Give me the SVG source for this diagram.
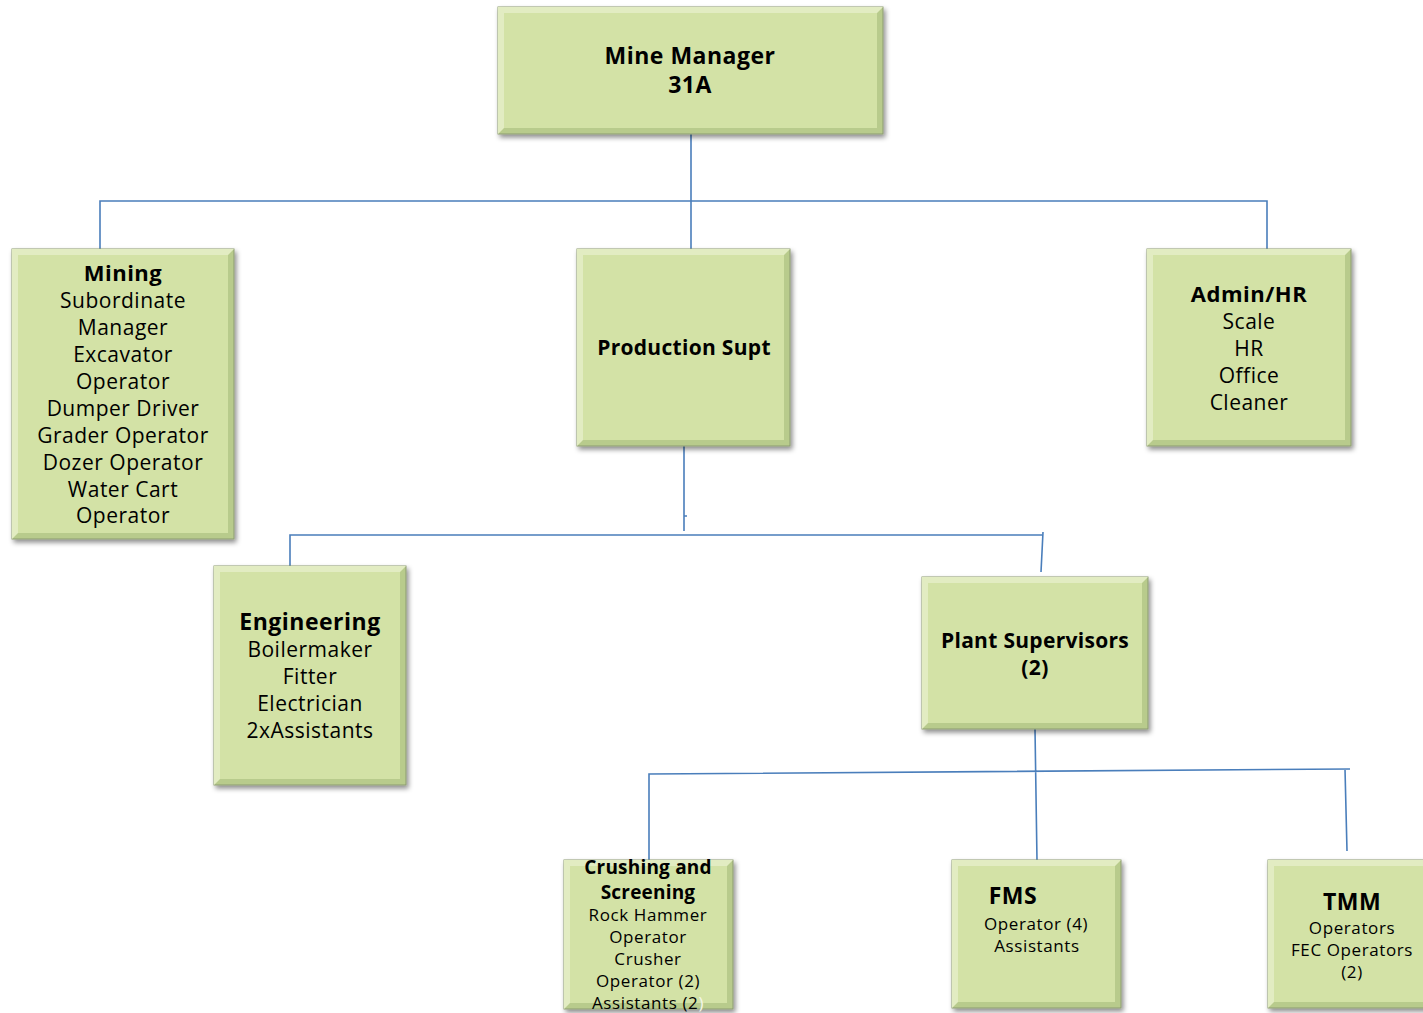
<svg xmlns="http://www.w3.org/2000/svg" width="1423" height="1013" viewBox="0 0 1423 1013">
<defs>
<filter id="sh" x="-10%" y="-10%" width="125%" height="125%">
<feDropShadow dx="2" dy="3" stdDeviation="2.5" flood-color="#000" flood-opacity="0.45"/>
</filter>
</defs>
<style>
.o{fill:#b8cb8c;stroke:#8d9b72;stroke-width:1;filter:url(#sh)}
.l{fill:#e2ecc2}
.i{fill:#d3e2a6}
text{font-family:"Open Sans","Noto Sans","DejaVu Sans",sans-serif;fill:#000;text-anchor:middle}
.b{font-weight:bold;font-size:23px;letter-spacing:0.5px}
.n{font-size:21px;letter-spacing:0.5px}
.s{font-size:17px;letter-spacing:0.6px}
.c{fill:none;stroke:#4a7ebb;stroke-width:1.6}
</style>
<rect width="1423" height="1013" fill="#fff"/>
<g id="connectors">
<path class="c" d="M691 134V249M100 249V201H1267V249"/>
<path class="c" d="M684 446V531M684 516H687M290 566V535H1042M1043 532L1041 572"/>
<path class="c" d="M1035 729L1037 860M649 860V774L1350 769M1345 769L1347 851"/>
</g>
<g id="mine-manager">
<rect class="o" x="498" y="7" width="385" height="127"/>
<polygon class="l" points="498,7 883,7 877,13 504,13 504,128 498,134"/>
<rect class="i" x="504" y="13" width="373" height="115"/>
<text class="b" x="690" y="64">Mine Manager</text>
<text class="b" x="690" y="93">31A</text>
</g>
<g id="mining">
<rect class="o" x="12" y="249" width="222" height="290"/>
<polygon class="l" points="12,249 234,249 228,255 18,255 18,533 12,539"/>
<rect class="i" x="18" y="255" width="210" height="278"/>
<text class="b" x="123" y="281" style="font-size:22px">Mining</text>
<text class="n" x="123" y="308">Subordinate</text>
<text class="n" x="123" y="335">Manager</text>
<text class="n" x="123" y="362">Excavator</text>
<text class="n" x="123" y="389">Operator</text>
<text class="n" x="123" y="416">Dumper Driver</text>
<text class="n" x="123" y="443">Grader Operator</text>
<text class="n" x="123" y="470">Dozer Operator</text>
<text class="n" x="123" y="497">Water Cart</text>
<text class="n" x="123" y="523">Operator</text>
</g>
<g id="production-supt">
<rect class="o" x="577" y="249" width="213" height="197"/>
<polygon class="l" points="577,249 790,249 784,255 583,255 583,440 577,446"/>
<rect class="i" x="583" y="255" width="201" height="185"/>
<text class="b" x="684" y="355" style="font-size:21px;letter-spacing:0.3px">Production Supt</text>
</g>
<g id="admin-hr">
<rect class="o" x="1147" y="249" width="204" height="197"/>
<polygon class="l" points="1147,249 1351,249 1345,255 1153,255 1153,440 1147,446"/>
<rect class="i" x="1153" y="255" width="192" height="185"/>
<text class="b" x="1249" y="302" style="font-size:22px">Admin/HR</text>
<text class="n" x="1249" y="329">Scale</text>
<text class="n" x="1249" y="356">HR</text>
<text class="n" x="1249" y="383">Office</text>
<text class="n" x="1249" y="410">Cleaner</text>
</g>
<g id="engineering">
<rect class="o" x="214" y="566" width="192" height="219"/>
<polygon class="l" points="214,566 406,566 400,572 220,572 220,779 214,785"/>
<rect class="i" x="220" y="572" width="180" height="207"/>
<text class="b" x="310" y="630">Engineering</text>
<text class="n" x="310" y="657">Boilermaker</text>
<text class="n" x="310" y="684">Fitter</text>
<text class="n" x="310" y="711">Electrician</text>
<text class="n" x="310" y="738">2xAssistants</text>
</g>
<g id="plant-supervisors">
<rect class="o" x="922" y="577" width="226" height="152"/>
<polygon class="l" points="922,577 1148,577 1142,583 928,583 928,723 922,729"/>
<rect class="i" x="928" y="583" width="214" height="140"/>
<text class="b" x="1035" y="648" style="font-size:21px;letter-spacing:0.3px">Plant Supervisors</text>
<text class="b" x="1035" y="675" style="font-size:21px">(2)</text>
</g>
<g id="crushing-screening">
<rect class="o" x="564" y="860" width="169" height="149"/>
<polygon class="l" points="564,860 733,860 727,866 570,866 570,1003 564,1009"/>
<rect class="i" x="570" y="866" width="157" height="137"/>
<text class="b" x="648" y="874" style="font-size:19px;letter-spacing:0.2px">Crushing and</text>
<text class="b" x="648" y="899" style="font-size:19px;letter-spacing:0.2px">Screening</text>
<text class="s" x="648" y="921">Rock Hammer</text>
<text class="s" x="648" y="943">Operator</text>
<text class="s" x="648" y="965">Crusher</text>
<text class="s" x="648" y="987">Operator (2)</text>
<text class="s" x="648" y="1009">Assistants (2<tspan fill="#f4f7ea">)</tspan></text>
</g>
<g id="fms">
<rect class="o" x="952" y="860" width="169" height="148"/>
<polygon class="l" points="952,860 1121,860 1115,866 958,866 958,1002 952,1008"/>
<rect class="i" x="958" y="866" width="157" height="136"/>
<text class="b" x="1013" y="904">FMS</text>
<text class="s" x="1036" y="930">Operator (4)</text>
<text class="s" x="1037" y="952">Assistants</text>
</g>
<g id="tmm">
<rect class="o" x="1268" y="860" width="170" height="148"/>
<polygon class="l" points="1268,860 1438,860 1432,866 1274,866 1274,1002 1268,1008"/>
<rect class="i" x="1274" y="866" width="158" height="136"/>
<text class="b" x="1352" y="910">TMM</text>
<text class="s" x="1352" y="934">Operators</text>
<text class="s" x="1352" y="956">FEC Operators</text>
<text class="s" x="1352" y="978">(2)</text>
</g>
</svg>
